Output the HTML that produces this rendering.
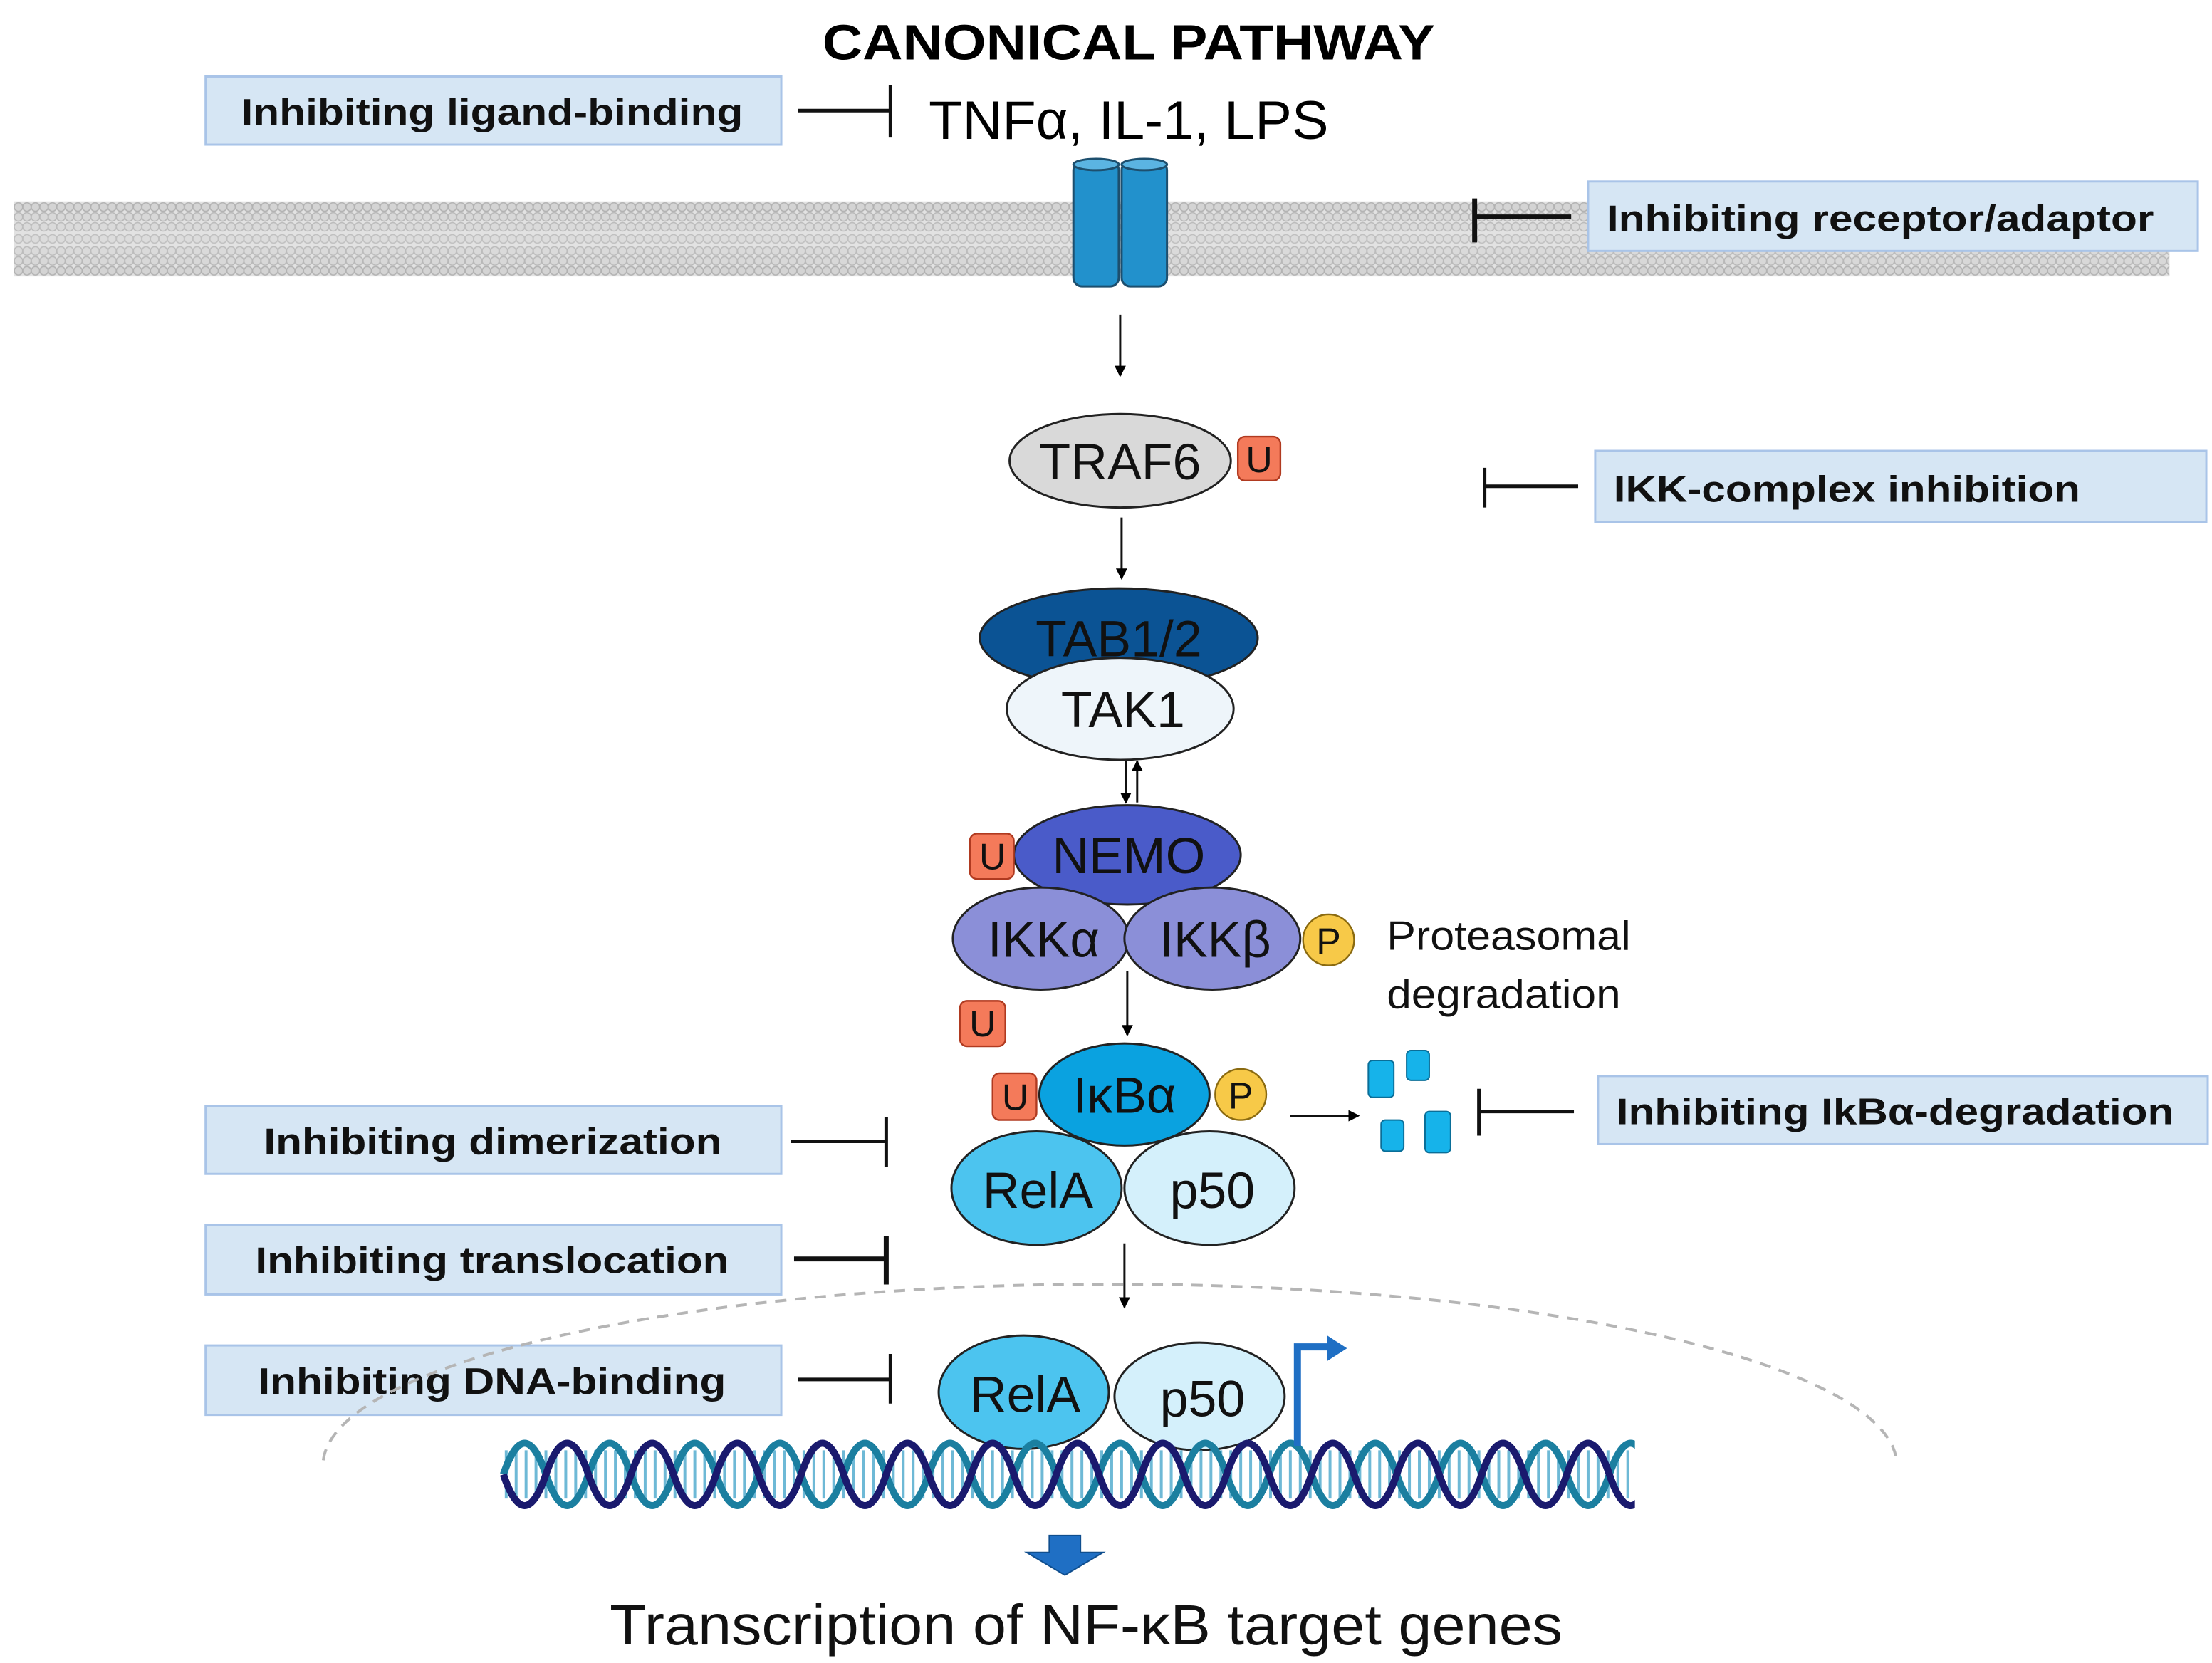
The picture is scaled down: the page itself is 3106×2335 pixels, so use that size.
<!DOCTYPE html>
<html><head><meta charset="utf-8"><style>
html,body{margin:0;padding:0;background:#fff;}
svg{display:block;}
text{font-family:"Liberation Sans",sans-serif;}
</style></head><body>
<svg width="3106" height="2335" viewBox="0 0 1560 1173" preserveAspectRatio="none" xmlns="http://www.w3.org/2000/svg">
<defs>
<pattern id="mem" x="10" y="142" width="6" height="53" patternUnits="userSpaceOnUse">
<rect width="6" height="53" fill="#e2e2e2"/>
<circle cx="3" cy="4" r="3" fill="#d4d4d4" stroke="#b2b2b2" stroke-width="0.8"/>
<circle cx="3" cy="11" r="3" fill="#d8d8d8" stroke="#b8b8b8" stroke-width="0.8"/>
<circle cx="3" cy="18" r="3" fill="#dadada" stroke="#bcbcbc" stroke-width="0.8"/>
<circle cx="3" cy="26.5" r="3" fill="#dcdcdc" stroke="#c0c0c0" stroke-width="0.8"/>
<circle cx="3" cy="35" r="3" fill="#dadada" stroke="#bcbcbc" stroke-width="0.8"/>
<circle cx="3" cy="42" r="3" fill="#d8d8d8" stroke="#b8b8b8" stroke-width="0.8"/>
<circle cx="3" cy="49" r="3" fill="#d4d4d4" stroke="#b2b2b2" stroke-width="0.8"/>
</pattern>
<marker id="ah" markerWidth="8" markerHeight="8" refX="7" refY="4" orient="auto" markerUnits="userSpaceOnUse"><path d="M0,0 L8,4 L0,8 z" fill="#000"/></marker>
</defs>
<rect width="1560" height="1173" fill="#fff"/>

<text x="796" y="42" font-size="35" font-weight="bold" text-anchor="middle" textLength="432" lengthAdjust="spacingAndGlyphs">CANONICAL PATHWAY</text>

<rect x="10" y="142" width="1520" height="53" fill="url(#mem)"/>

<g fill="#d6e6f4" stroke="#a9c4e8" stroke-width="1.5">
<rect x="145" y="54" width="406" height="48"/>
<rect x="1120" y="128" width="430" height="49"/>
<rect x="1125" y="318" width="431" height="50"/>
<rect x="1127" y="759" width="430" height="48"/>
<rect x="145" y="780" width="406" height="48"/>
<rect x="145" y="864" width="406" height="49"/>
<rect x="145" y="949" width="406" height="49"/>
</g>
<g font-size="26" font-weight="bold" fill="#111">
<text x="170" y="88" textLength="354" lengthAdjust="spacingAndGlyphs">Inhibiting ligand-binding</text>
<text x="1133" y="163" textLength="386" lengthAdjust="spacingAndGlyphs">Inhibiting receptor/adaptor</text>
<text x="1138" y="354" textLength="329" lengthAdjust="spacingAndGlyphs">IKK-complex inhibition</text>
<text x="1140" y="793" textLength="393" lengthAdjust="spacingAndGlyphs">Inhibiting IkBα-degradation</text>
<text x="186" y="814" textLength="323" lengthAdjust="spacingAndGlyphs">Inhibiting dimerization</text>
<text x="180" y="898" textLength="334" lengthAdjust="spacingAndGlyphs">Inhibiting translocation</text>
<text x="182" y="983" textLength="330" lengthAdjust="spacingAndGlyphs">Inhibiting DNA-binding</text>
</g>

<g stroke="#111" stroke-width="2.5" fill="none">
<path d="M563,78 H628 M628,60 V97"/>
<path d="M1040,153 H1108 M1040,140 V171" stroke-width="3.5"/>
<path d="M1047,343 H1113 M1047,330 V358"/>
<path d="M1043,784 H1110 M1043,768 V801"/>
<path d="M558,805 H625 M625,788 V823"/>
<path d="M560,888 H625 M625,872 V906" stroke-width="3.5"/>
<path d="M563,973 H628 M628,955 V990"/>
</g>

<text x="655" y="98" font-size="38" textLength="282" lengthAdjust="spacingAndGlyphs">TNFα, IL-1, LPS</text>

<g stroke="#1d4f6e" stroke-width="1.5" fill="#2291cc">
<rect x="757" y="114" width="32" height="88" rx="6"/>
<ellipse cx="773" cy="116" rx="16" ry="4" fill="#5bb4e2"/>
<rect x="791" y="114" width="32" height="88" rx="6"/>
<ellipse cx="807" cy="116" rx="16" ry="4" fill="#5bb4e2"/>
</g>

<g stroke="#111" stroke-width="1.5" marker-end="url(#ah)">
<line x1="790" y1="222" x2="790" y2="265"/>
<line x1="791" y1="365" x2="791" y2="408"/>
<line x1="794" y1="537" x2="794" y2="566"/>
<line x1="802" y1="566" x2="802" y2="537"/>
<line x1="795" y1="685" x2="795" y2="730"/>
<line x1="910" y1="787" x2="958" y2="787"/>
<line x1="793" y1="877" x2="793" y2="922"/>
</g>

<path d="M228,1030 A555,128 0 0 1 1337,1027" fill="none" stroke="#b5b5b5" stroke-width="2" stroke-dasharray="8,6"/>

<g stroke="#222" stroke-width="1.5">
<ellipse cx="790" cy="325" rx="78" ry="33" fill="#d9d9d9"/>
<ellipse cx="789" cy="450" rx="98" ry="35" fill="#0b5394"/>
<ellipse cx="790" cy="500" rx="80" ry="36" fill="#eef5fa"/>
<ellipse cx="795" cy="603" rx="80" ry="35" fill="#4a5bc9"/>
<ellipse cx="734" cy="662" rx="62" ry="36" fill="#8b8fd8"/>
<ellipse cx="855" cy="662" rx="62" ry="36" fill="#8b8fd8"/>
<ellipse cx="731" cy="838" rx="60" ry="40" fill="#4cc4ef"/>
<ellipse cx="853" cy="838" rx="60" ry="40" fill="#d4f0fb"/>
<ellipse cx="793" cy="772" rx="60" ry="36" fill="#0aa2e0"/>
<ellipse cx="722" cy="982" rx="60" ry="40" fill="#4cc4ef"/>
<ellipse cx="846" cy="985" rx="60" ry="38" fill="#d4f0fb"/>
</g>
<g font-size="36" text-anchor="middle" fill="#111">
<text x="790" y="338">TRAF6</text>
<text x="789" y="463">TAB1/2</text>
<text x="792" y="513">TAK1</text>
<text x="796" y="616">NEMO</text>
<text x="736" y="675">IKKα</text>
<text x="857" y="675">IKKβ</text>
<text x="793" y="785">IκBα</text>
<text x="732" y="852">RelA</text>
<text x="855" y="852">p50</text>
<text x="723" y="996">RelA</text>
<text x="848" y="999">p50</text>
</g>

<g fill="#f47a5a" stroke="#b03a20" stroke-width="1.2">
<rect x="873" y="308" width="30" height="31" rx="5"/>
<rect x="684" y="588" width="31" height="32" rx="5"/>
<rect x="677" y="706" width="32" height="32" rx="5"/>
<rect x="700" y="757" width="31" height="33" rx="5"/>
</g>
<g font-size="26" text-anchor="middle" fill="#111">
<text x="888" y="333">U</text>
<text x="700" y="613">U</text>
<text x="693" y="731">U</text>
<text x="716" y="783">U</text>
</g>
<g fill="#f7c948" stroke="#8a6a10" stroke-width="1.2">
<circle cx="937" cy="663" r="18"/>
<circle cx="875" cy="772" r="18"/>
</g>
<g font-size="26" text-anchor="middle" fill="#111">
<text x="937" y="673">P</text>
<text x="875" y="782">P</text>
</g>

<text x="978" y="670" font-size="29" fill="#111" textLength="172" lengthAdjust="spacingAndGlyphs">Proteasomal</text>
<text x="978" y="711" font-size="29" fill="#111" textLength="165" lengthAdjust="spacingAndGlyphs">degradation</text>

<g fill="#16b3ea" stroke="#0a6e98" stroke-width="1">
<rect x="965" y="748" width="18" height="26" rx="3"/>
<rect x="992" y="741" width="16" height="21" rx="3"/>
<rect x="974" y="790" width="16" height="22" rx="3"/>
<rect x="1005" y="784" width="18" height="29" rx="3"/>
</g>

<line x1="356" y1="1040" x2="1152" y2="1040" stroke="#4aa8cc" stroke-width="34" stroke-dasharray="2,5" opacity="0.8"/>
<path d="M355,1040 Q370,996 385,1040 T415,1040 T445,1040 T475,1040 T505,1040 T535,1040 T565,1040 T595,1040 T625,1040 T655,1040 T685,1040 T715,1040 T745,1040 T775,1040 T805,1040 T835,1040 T865,1040 T895,1040 T925,1040 T955,1040 T985,1040 T1015,1040 T1045,1040 T1075,1040 T1105,1040 T1135,1040 T1165,1040" fill="none" stroke="#1b7fa0" stroke-width="5"/>
<path d="M355,1040 Q370,1084 385,1040 T415,1040 T445,1040 T475,1040 T505,1040 T535,1040 T565,1040 T595,1040 T625,1040 T655,1040 T685,1040 T715,1040 T745,1040 T775,1040 T805,1040 T835,1040 T865,1040 T895,1040 T925,1040 T955,1040 T985,1040 T1015,1040 T1045,1040 T1075,1040 T1105,1040 T1135,1040 T1165,1040" fill="none" stroke="#1a1a6e" stroke-width="5"/>
<rect x="1153" y="1010" width="20" height="60" fill="#fff"/>

<path d="M915,1020 V950 H938" fill="none" stroke="#1f6fc4" stroke-width="5"/>
<path d="M936,942 L950,951 L936,960 z" fill="#1f6fc4"/>

<path d="M740,1083 H762 V1095 H778 L751,1111 L724,1095 H740 z" fill="#1f6fc4" stroke="#0f4e8e" stroke-width="1"/>

<text x="766" y="1160" font-size="40" text-anchor="middle" fill="#111" textLength="672" lengthAdjust="spacingAndGlyphs">Transcription of NF-κB target genes</text>
</svg>
</body></html>
